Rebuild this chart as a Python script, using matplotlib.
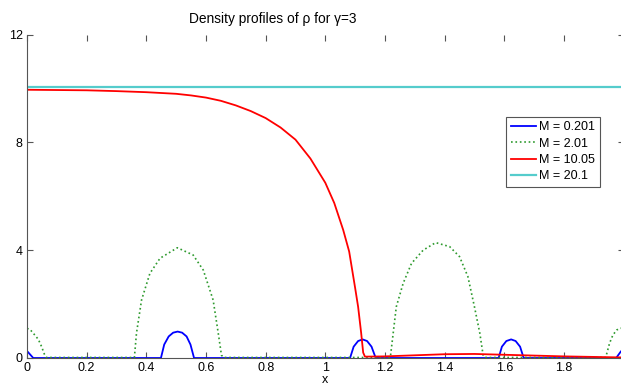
import matplotlib
matplotlib.use("Agg")
import matplotlib.pyplot as plt

plt.rcParams['font.family'] = ['Liberation Sans', 'DejaVu Sans']
plt.rcParams['font.size'] = 9

# M = 0.201
x_blue = [0, 0.021, 0.449, 0.46, 0.475, 0.49, 0.505, 0.52, 0.535, 0.548, 0.56,
          1.083, 1.095, 1.11, 1.125, 1.14, 1.155, 1.169,
          1.581, 1.592, 1.607, 1.623, 1.638, 1.653, 1.665,
          1.975, 1.99, 2.0]
y_blue = [0.26, 0, 0, 0.5, 0.8, 0.94, 0.98, 0.94, 0.8, 0.5, 0,
          0, 0.42, 0.63, 0.69, 0.63, 0.42, 0,
          0, 0.42, 0.63, 0.69, 0.63, 0.42, 0,
          0, 0.23, 0.35]

# M = 2.01
x_green = [0, 0.01, 0.021, 0.038, 0.049, 0.058, 0.065, 0.36, 0.367, 0.384, 0.412,
           0.446, 0.504, 0.557, 0.591, 0.624, 0.641, 0.652, 0.66,
           1.218, 1.238, 1.261, 1.289, 1.328, 1.37, 1.417, 1.45, 1.478, 1.5,
           1.518, 1.529, 1.535, 1.94, 1.953, 1.964, 1.977, 1.989, 2.0]
y_green = [1.1, 1.06, 0.92, 0.69, 0.42, 0.15, 0.02, 0.02, 0.92, 2.15, 3.14,
           3.7, 4.09, 3.82, 3.26, 2.15, 0.93, 0.1, 0.02,
           0.02, 1.9, 2.77, 3.51, 4.0, 4.28, 4.13, 3.76, 3.02, 1.9,
           0.92, 0.11, 0.02, 0.02, 0.55, 0.85, 1.04, 1.1, 1.12]

# M = 10.05
x_red = [0, 0.1, 0.2, 0.3, 0.4, 0.5, 0.55, 0.6, 0.65, 0.7, 0.75, 0.8, 0.85,
         0.9, 0.95, 1.0, 1.03, 1.06, 1.08, 1.1, 1.11, 1.12, 1.127, 1.133,
         1.2, 1.3, 1.4, 1.5, 1.6, 1.7, 1.8, 1.9, 2.0]
y_red = [9.95, 9.94, 9.93, 9.9, 9.86, 9.8, 9.74, 9.66, 9.54, 9.37, 9.16, 8.9, 8.55,
         8.1, 7.4, 6.5, 5.75, 4.75, 3.95, 2.6, 1.9, 0.95, 0.2, 0.05,
         0.06, 0.1, 0.14, 0.15, 0.12, 0.09, 0.06, 0.04, 0.02]

# M = 20.1
x_cyan = [0, 0.5, 1.0, 1.5, 2.0]
y_cyan = [10.05, 10.05, 10.05, 10.05, 10.05]

fig = plt.figure(figsize=(6.21, 3.87), dpi=100)
ax = fig.add_axes([27 / 621, 29 / 387, 596.6 / 621, 323.5 / 387])

ax.plot(x_blue, y_blue, color='#0000ff', lw=1.3, label='M = 0.201')
ax.plot(x_green, y_green, color='#2e9a2e', lw=1.2, ls=':', label='M = 2.01')
ax.plot(x_red, y_red, color='#ff0000', lw=1.3, label='M = 10.05')
ax.plot(x_cyan, y_cyan, color='#55cccc', lw=1.6, label='M = 20.1')

ax.set_xlim(0, 2)
ax.set_ylim(0, 12)
ax.set_xticks([0, 0.2, 0.4, 0.6, 0.8, 1, 1.2, 1.4, 1.6, 1.8, 2])
ax.set_xticklabels(['0', '0.2', '0.4', '0.6', '0.8', '1', '1.2', '1.4', '1.6', '1.8', '2'])
ax.set_yticks([0, 4, 8, 12])
ax.tick_params(direction='in', length=4, top=True, right=True, color='#555555', pad=3)
ax.spines['top'].set_visible(False)
for s in ['left', 'bottom', 'right']:
    ax.spines[s].set_color('#555555')

ax.set_xlabel('x', labelpad=0)
ax.set_title('Density profiles of \u03c1 for \u03b3=3', x=0.412, pad=8, fontsize=9.9)

leg = ax.legend(loc='upper right', bbox_to_anchor=(0.96, 0.745), fancybox=False,
                edgecolor='#555555', framealpha=1, handlelength=2.0,
                handletextpad=0.3, borderpad=0.35, labelspacing=0.35,
                borderaxespad=0)
leg.get_frame().set_linewidth(0.8)

fig.savefig('out.png', dpi=100)
